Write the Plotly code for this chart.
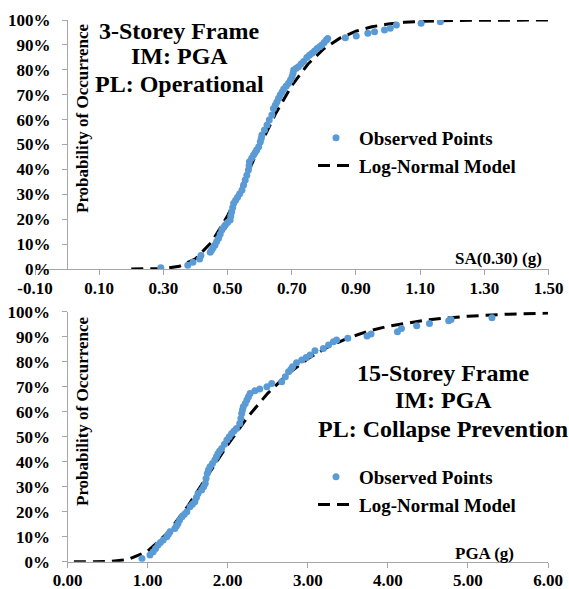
import plotly.graph_objects as go

W, H = 569, 589

# ---- 3-storey frame, PL: Operational (IM read against SA(0.30)) ----
sa_obs = [0.292, 0.376, 0.392, 0.413, 0.417, 0.446, 0.450, 0.455, 0.461, 0.466,
          0.472, 0.477, 0.482, 0.488, 0.493, 0.500, 0.508, 0.510, 0.513, 0.516,
          0.519, 0.525, 0.531, 0.538, 0.545, 0.550, 0.555, 0.560, 0.565, 0.567,
          0.568, 0.575, 0.581, 0.586, 0.591, 0.597, 0.602, 0.605, 0.607, 0.615,
          0.623, 0.630, 0.638, 0.643, 0.649, 0.654, 0.659, 0.664, 0.670, 0.675,
          0.683, 0.690, 0.696, 0.701, 0.704, 0.706, 0.714, 0.721, 0.729, 0.737,
          0.747, 0.755, 0.763, 0.771, 0.779, 0.787, 0.794, 0.801, 0.808, 0.812,
          0.867, 0.901, 0.937, 0.958, 0.989, 1.007, 1.026, 1.103, 1.163]
p_sa_obs = [0.005, 0.015, 0.027, 0.040, 0.054, 0.067, 0.075, 0.085, 0.096, 0.110,
            0.123, 0.140, 0.157, 0.168, 0.177, 0.187, 0.197, 0.213, 0.230, 0.247,
            0.264, 0.276, 0.288, 0.302, 0.317, 0.337, 0.357, 0.377, 0.398, 0.415,
            0.431, 0.445, 0.458, 0.468, 0.478, 0.491, 0.511, 0.525, 0.538, 0.558,
            0.578, 0.598, 0.618, 0.645, 0.659, 0.672, 0.686, 0.699, 0.711, 0.723,
            0.735, 0.746, 0.759, 0.772, 0.786, 0.799, 0.806, 0.812, 0.823, 0.833,
            0.849, 0.858, 0.866, 0.876, 0.886, 0.893, 0.900, 0.910, 0.920, 0.926,
            0.929, 0.936, 0.947, 0.953, 0.960, 0.967, 0.980, 0.987, 0.993]

sa_model = [0.20, 0.25, 0.30, 0.35, 0.40, 0.45, 0.50, 0.55, 0.60, 0.65, 0.70,
            0.75, 0.80, 0.85, 0.90, 0.95, 1.00, 1.05, 1.10, 1.20, 1.30, 1.40, 1.50]
p_sa_model = [0.0000, 0.0001, 0.0015, 0.0106, 0.0410, 0.1075, 0.2136, 0.3480,
              0.4916, 0.6247, 0.7363, 0.8223, 0.8846, 0.9272, 0.9551, 0.9729,
              0.9839, 0.9906, 0.9946, 0.9982, 0.9994, 0.9998, 0.9999]

# ---- 15-storey frame, PL: Collapse Prevention (IM: PGA) ----
pga_obs = [0.93, 1.03, 1.07, 1.10, 1.13, 1.16, 1.195, 1.24, 1.26, 1.28,
           1.34, 1.36, 1.38, 1.40, 1.43, 1.46, 1.49, 1.53, 1.56, 1.59,
           1.61, 1.63, 1.675, 1.70, 1.72, 1.73, 1.745, 1.76, 1.78, 1.81,
           1.84, 1.86, 1.88, 1.90, 1.925, 1.96, 1.99, 2.02, 2.05, 2.08,
           2.11, 2.15, 2.165, 2.175, 2.185, 2.195, 2.22, 2.24, 2.26, 2.28,
           2.34, 2.40, 2.49, 2.55, 2.675, 2.72, 2.76, 2.79, 2.81, 2.86,
           2.925, 2.98, 3.03, 3.09, 3.195, 3.26, 3.32, 3.36, 3.50, 3.74,
           3.79, 4.12, 4.17, 4.36, 4.52, 4.76, 4.79, 5.30]
p_pga_obs = [0.013, 0.027, 0.040, 0.053, 0.067, 0.077, 0.087, 0.100, 0.110, 0.120,
             0.133, 0.143, 0.153, 0.167, 0.180, 0.190, 0.200, 0.220, 0.230, 0.240,
             0.257, 0.273, 0.287, 0.300, 0.313, 0.333, 0.353, 0.367, 0.380, 0.393,
             0.407, 0.420, 0.433, 0.443, 0.453, 0.470, 0.487, 0.500, 0.513, 0.523,
             0.533, 0.553, 0.573, 0.593, 0.607, 0.620, 0.633, 0.647, 0.660, 0.673,
             0.684, 0.691, 0.700, 0.713, 0.720, 0.740, 0.760, 0.770, 0.780, 0.796,
             0.807, 0.817, 0.827, 0.844, 0.853, 0.867, 0.880, 0.887, 0.894, 0.903,
             0.911, 0.920, 0.933, 0.944, 0.953, 0.964, 0.969, 0.976]

pga_model = [0.08, 0.25, 0.50, 0.75, 1.00, 1.25, 1.50, 1.75, 2.00, 2.25, 2.50,
             2.75, 3.00, 3.25, 3.50, 3.75, 4.00, 4.50, 5.00, 5.50, 6.00]
p_pga_model = [0.0000, 0.0000, 0.0004, 0.0078, 0.0416, 0.1149, 0.2216, 0.3446,
               0.4674, 0.5787, 0.6735, 0.7506, 0.8115, 0.8586, 0.8945, 0.9215,
               0.9416, 0.9678, 0.9821, 0.9900, 0.9944]

# ---- tick labels ----
sa_tickvals = [-0.10, 0.10, 0.30, 0.50, 0.70, 0.90, 1.10, 1.30, 1.50]
sa_ticktext = ["-0.10", "0.10", "0.30", "0.50", "0.70", "0.90", "1.10", "1.30", "1.50"]
pga_tickvals = [0, 1, 2, 3, 4, 5, 6]
pga_ticktext = ["0.00", "1.00", "2.00", "3.00", "4.00", "5.00", "6.00"]
prob_tickvals = [0.0, 0.1, 0.2, 0.3, 0.4, 0.5, 0.6, 0.7, 0.8, 0.9, 1.0]
prob_ticktext = ["0%", "10%", "20%", "30%", "40%", "50%", "60%", "70%", "80%", "90%", "100%"]

SERIF = "Liberation Serif"
BLUE = "#5B9BD5"
AXIS_GREY = "#A6A6A6"


def fx(px):
    return px / W


def fy(py):
    return 1 - py / H


def font(size):
    return dict(family=SERIF, size=size, color="black", weight="bold")


fig = go.Figure()

# top panel
fig.add_trace(go.Scatter(x=sa_model, y=p_sa_model, mode="lines", name="Log-Normal Model",
                         line=dict(color="black", width=3, dash="12px,7px"),
                         xaxis="x", yaxis="y", legend="legend", legendrank=2))
fig.add_trace(go.Scatter(x=sa_obs, y=p_sa_obs, mode="markers", name="Observed Points",
                         marker=dict(color=BLUE, size=7, line=dict(width=0)),
                         xaxis="x", yaxis="y", legend="legend", legendrank=1))

# bottom panel
fig.add_trace(go.Scatter(x=pga_model, y=p_pga_model, mode="lines", name="Log-Normal Model",
                         line=dict(color="black", width=3, dash="12px,7px"),
                         xaxis="x2", yaxis="y2", legend="legend2", legendrank=2))
fig.add_trace(go.Scatter(x=pga_obs, y=p_pga_obs, mode="markers", name="Observed Points",
                         marker=dict(color=BLUE, size=7, line=dict(width=0)),
                         xaxis="x2", yaxis="y2", legend="legend2", legendrank=1))

axis_common = dict(showgrid=False, zeroline=False, showline=True, linecolor=AXIS_GREY,
                   linewidth=1, ticks="outside", ticklen=5, tickcolor=AXIS_GREY,
                   tickwidth=1, tickfont=font(17), fixedrange=True, automargin=False)

fig.update_layout(
    template="none",
    width=W, height=H,
    margin=dict(l=0, r=0, t=0, b=0, pad=0, autoexpand=False),
    paper_bgcolor="white", plot_bgcolor="white",
    xaxis=dict(domain=[fx(35), fx(548.5)], range=[-0.10, 1.50], anchor="y",
               tickmode="array", tickvals=sa_tickvals, ticktext=sa_ticktext,
               ticklabelstandoff=-1, **axis_common),
    yaxis=dict(domain=[fy(269), fy(20)], range=[0, 1], anchor="free", position=fx(67),
               tickmode="array", tickvals=prob_tickvals, ticktext=prob_ticktext,
               ticklabelstandoff=8, **axis_common),
    xaxis2=dict(domain=[fx(67.5), fx(548)], range=[0, 6], anchor="y2",
                tickmode="array", tickvals=pga_tickvals, ticktext=pga_ticktext,
                ticklabelstandoff=-2, **axis_common),
    yaxis2=dict(domain=[fy(561.7), fy(311.7)], range=[0, 1], anchor="x2",
                tickmode="array", tickvals=prob_tickvals, ticktext=prob_ticktext,
                ticklabelstandoff=8, **axis_common),
    legend=dict(x=fx(313), y=fy(152), xanchor="left", yanchor="middle",
                font=font(19), bgcolor="rgba(0,0,0,0)", borderwidth=0, itemwidth=36,
                tracegroupgap=0),
    legend2=dict(x=fx(313), y=fy(491), xanchor="left", yanchor="middle",
                 font=font(19), bgcolor="rgba(0,0,0,0)", borderwidth=0, itemwidth=36,
                 tracegroupgap=0),
)

annotations = []
# panel headings
for text, cy in [("3-Storey Frame", 31), ("IM: PGA", 56), ("PL: Operational", 84.5)]:
    annotations.append(dict(text=text, x=fx(179), y=fy(cy), xref="paper", yref="paper",
                            xanchor="center", yanchor="middle", showarrow=False, font=font(24)))
for text, cy in [("15-Storey Frame", 372.5), ("IM: PGA", 400), ("PL: Collapse Prevention", 428.5)]:
    annotations.append(dict(text=text, x=fx(443), y=fy(cy), xref="paper", yref="paper",
                            xanchor="center", yanchor="middle", showarrow=False, font=font(24)))
# axis titles drawn inside the plot areas
for cy in (118, 411):
    annotations.append(dict(text="Probability of Occurrence", x=fx(82), y=fy(cy),
                            xref="paper", yref="paper", xanchor="center", yanchor="middle",
                            textangle=-90, showarrow=False, font=font(17)))
annotations.append(dict(text="SA(0.30) (g)", x=fx(543.5), y=fy(258), xref="paper", yref="paper",
                        xanchor="right", yanchor="middle", showarrow=False, font=font(17)))
annotations.append(dict(text="PGA (g)", x=fx(516), y=fy(553), xref="paper", yref="paper",
                        xanchor="right", yanchor="middle", showarrow=False, font=font(17)))
fig.update_layout(annotations=annotations)

fig.write_html("out.html")
